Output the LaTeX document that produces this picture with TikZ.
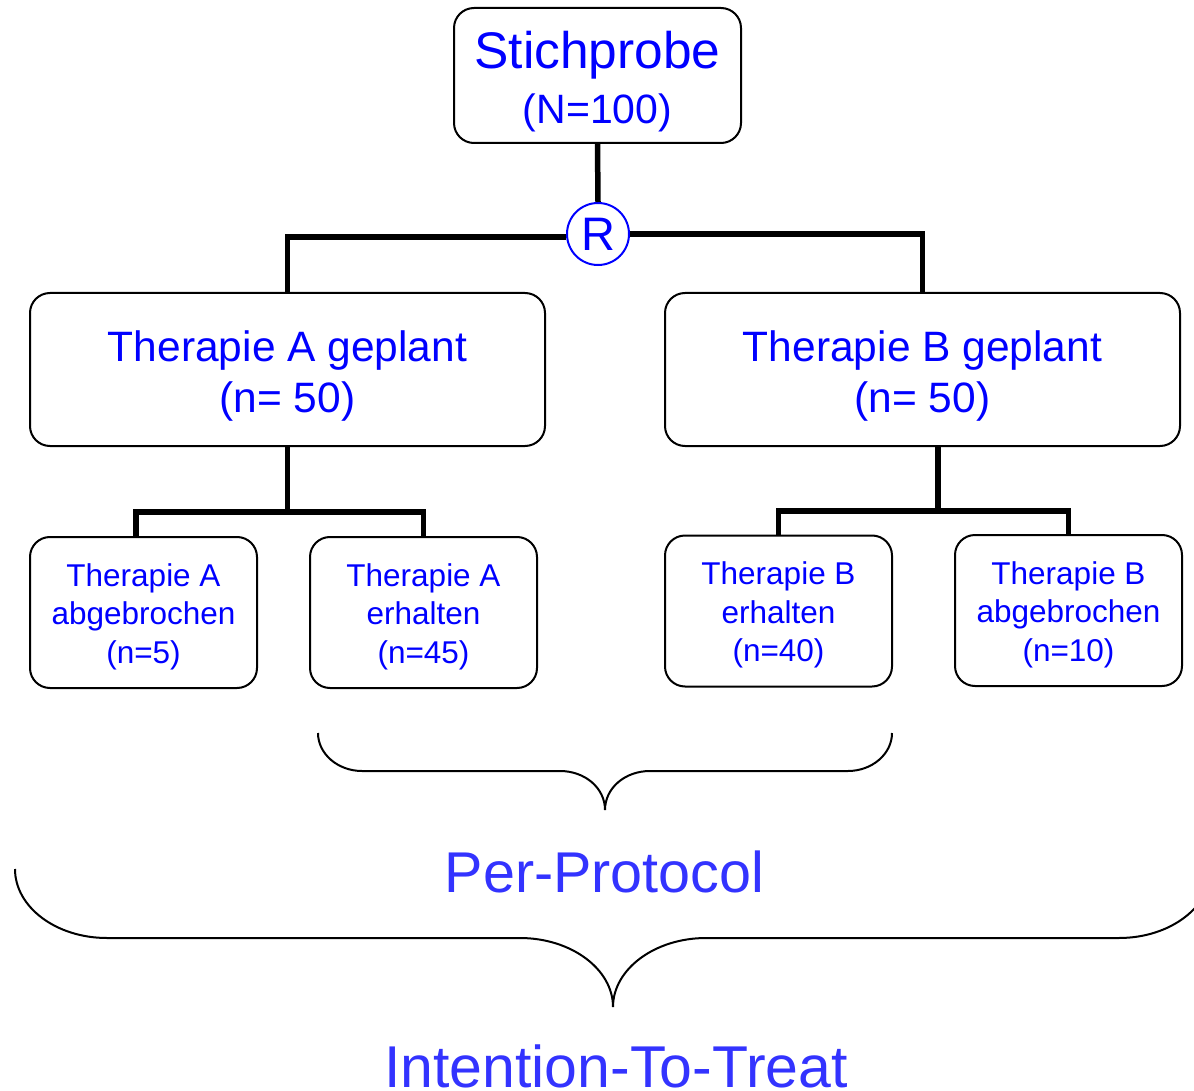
\documentclass[tikz,border=0pt]{standalone}
\usepackage{fontspec}
\setmainfont{Liberation Sans}
\definecolor{txtblue}{RGB}{0,0,255}
\definecolor{lblblue}{RGB}{51,51,255}
\newcommand{\mytopstrut}[1]{\rule{0pt}{#1}}
\begin{document}
\begin{tikzpicture}[x=1pt,y=-1pt,
  box/.style={draw=black, line width=2pt, rounded corners=20pt, align=center, text=txtblue, inner sep=0pt},
  bigbox/.style={box, minimum width=515pt, minimum height=153pt, font=\fontsize{42.5}{51}\selectfont},
  smallbox/.style={box, minimum width=227pt, minimum height=151pt, font=\fontsize{31.5}{38.5}\selectfont},
  conn/.style={line width=5.5pt, draw=black},
  bracestyle/.style={line width=2pt, draw=black},
  lbl/.style={text=lblblue, inner sep=0pt, anchor=base}
]
\clip (0,0) rectangle (1194,1091);

% boxes
\node[box, minimum width=287pt, minimum height=135pt, font=\fontsize{41}{55}\selectfont] (stich) at (597.5,75.5)
  {\mytopstrut{49pt}{\fontsize{51.5}{55}\selectfont Stichprobe}\\(N=100)};
\node[circle, draw=txtblue, line width=2pt, minimum size=62pt, inner sep=0pt, text=txtblue,
  font=\fontsize{47}{47}\selectfont] (R) at (598,234) {R};

\node[bigbox] (thA) at (287.5,369.5) {\mytopstrut{43pt}Therapie A geplant\\(n= 50)};
\node[bigbox] (thB) at (922.5,369.5) {\mytopstrut{43pt}Therapie B geplant\\(n= 50)};

\node[smallbox] (a1) at (143.5,612.5) {\mytopstrut{31pt}Therapie A\\abgebrochen\\(n=5)};
\node[smallbox] (a2) at (423.5,612.5) {\mytopstrut{31pt}Therapie A\\erhalten\\(n=45)};
\node[smallbox] (b1) at (778.5,611) {\mytopstrut{31pt}Therapie B\\erhalten\\(n=40)};
\node[smallbox] (b2) at (1068.5,610.5) {\mytopstrut{31pt}Therapie B\\abgebrochen\\(n=10)};

% connectors
\draw[conn] (stich.south) -- (R.north);
\draw[conn] ([yshift=-3pt]R.west) -| (thA.north);
\draw[conn] (R.east) -| (thB.north);

\draw[conn] (thA.south) -- (thA.south |- 0,512) coordinate (ja);
\draw[conn] (a1.north -| 136,0) |- (ja) -| (a2.north);
\draw[conn] (thB.south -| 938,0) -- (938,511) coordinate (jb);
\draw[conn] (b1.north) |- (jb) -| (b2.north);

% braces
\draw[bracestyle] (318,733) .. controls (318,754) and (338,771) .. (362,771)
  -- (560,771) .. controls (585,771) and (605,788) .. (605,810)
  .. controls (605,788) and (625,771) .. (650,771)
  -- (848,771) .. controls (872,771) and (892,754) .. (892,733);
\draw[bracestyle] (15,869) .. controls (15,907) and (56,938) .. (107,938)
  -- (520,938) .. controls (571,938) and (613,969) .. (613,1007)
  .. controls (613,969) and (655,938) .. (706,938)
  -- (1119,938) .. controls (1170,938) and (1211,907) .. (1211,869);

\node[lbl, font=\fontsize{57.5}{60}\selectfont] (pp) at (604.5,892) {Per-Protocol};
\node[lbl, font=\fontsize{59}{60}\selectfont] (itt) at (616,1087) {Intention-To-Treat};
\end{tikzpicture}
\end{document}
